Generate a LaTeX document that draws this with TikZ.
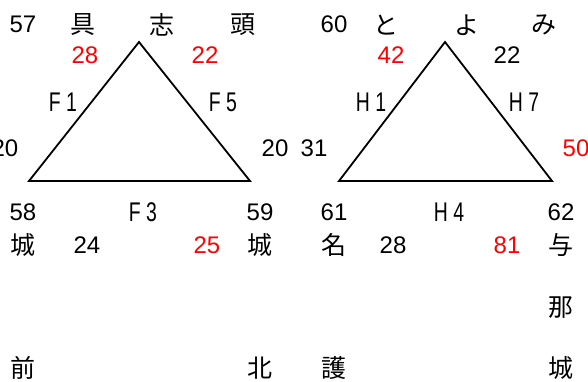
\documentclass[tikz,border=0pt]{standalone}
\usepackage{fontspec}
\setmainfont{Liberation Sans}
\newfontfamily\jpfont{Noto Sans CJK JP}
\newfontfamily\narrowfont[FakeStretch=0.72]{Liberation Sans}

\begin{document}
\begin{tikzpicture}
[
    x=1pt, y=-1pt,
    num/.style={font=\fontsize{24}{26}\selectfont, inner sep=0pt},
    red num/.style={num, text=red},
    kanji/.style={font=\jpfont\fontsize{25}{27}\selectfont, inner sep=0pt},
    side/.style={font=\narrowfont\fontsize{27}{29}\selectfont, inner sep=0pt},
    edge/.style={line width=1.8pt},
]
\useasboundingbox (0,0) rectangle (588,382);

% left triangle
\coordinate (fTop) at (139,42);
\coordinate (fLeft) at (29,181);
\coordinate (fRight) at (250,181);
\draw [edge] (fTop) -- (fLeft) -- (fRight) -- cycle;

\node [num] (n57) at (23,24) {57};
\node [kanji] (gu) at (83,25) {具};
\node [kanji] (shi) at (162,25) {志};
\node [kanji] (kashira) at (243,25) {頭};
\node [red num] (f28) at (85,55) {28};
\node [red num] (f22) at (205,55) {22};
\node [side] (f1) at (63,102) {F 1};
\node [side] (f5) at (223,102) {F 5};
\node [num] (f20l) at (5,148) {20};
\node [num] (f20r) at (275,148) {20};
\node [num] (n58) at (23,212) {58};
\node [side] (f3) at (143,212) {F 3};
\node [num] (n59) at (260,212) {59};
\node [kanji] (jo1) at (23,245) {城};
\node [num] (f24) at (87,245) {24};
\node [red num] (f25) at (207,245) {25};
\node [kanji] (jo2) at (260,245) {城};
\node [kanji] (mae) at (23,368) {前};
\node [kanji] (kita) at (260,368) {北};

% right triangle
\coordinate (hTop) at (445,42);
\coordinate (hLeft) at (339,181);
\coordinate (hRight) at (552,181);
\draw [edge] (hTop) -- (hLeft) -- (hRight) -- cycle;

\node [num] (n60) at (334,24) {60};
\node [kanji] (to) at (386,25) {と};
\node [kanji] (yo) at (467,25) {よ};
\node [kanji] (mi) at (544,25) {み};
\node [red num] (h42) at (391,55) {42};
\node [num] (h22) at (507,55) {22};
\node [side] (h1) at (371,102) {H 1};
\node [side] (h7) at (524,102) {H 7};
\node [num] (h31) at (314,148) {31};
\node [red num] (h50) at (576,148) {50};
\node [num] (n61) at (334,212) {61};
\node [side] (h4) at (449,212) {H 4};
\node [num] (n62) at (561,212) {62};
\node [kanji] (na) at (334,245) {名};
\node [num] (h28) at (393,245) {28};
\node [red num] (h81) at (507,245) {81};
\node [kanji] (ato) at (561,245) {与};
\node [kanji] (naha) at (561,308) {那};
\node [kanji] (go) at (334,368) {護};
\node [kanji] (jo3) at (561,368) {城};
\end{tikzpicture}
\end{document}
